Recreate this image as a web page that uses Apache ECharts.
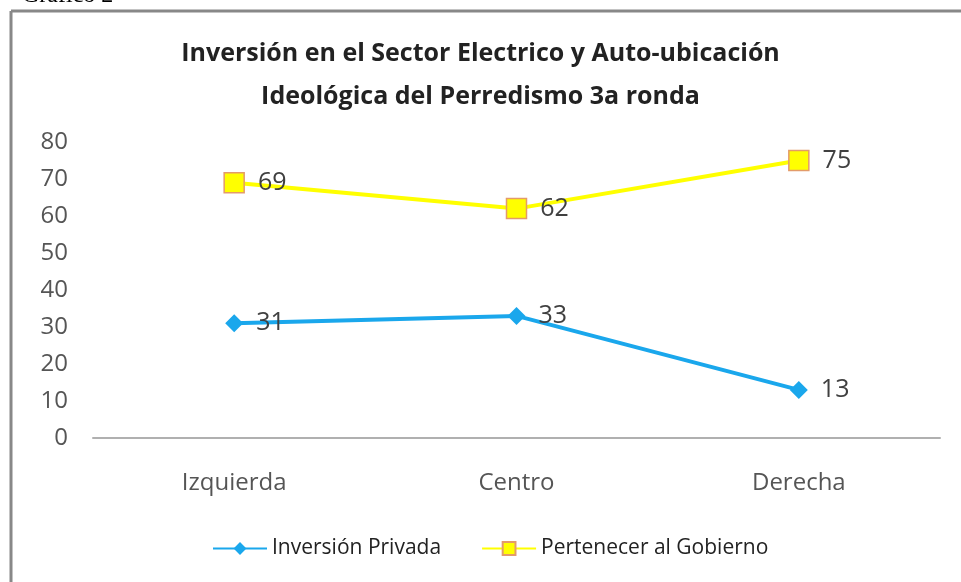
<!DOCTYPE html>
<html>
<head>
<meta charset="utf-8">
<script src="https://cdn.jsdelivr.net/npm/echarts@6/dist/echarts.min.js"></script>
<style>
  html, body { margin: 0; padding: 0; background: #fff; }
  #chart { width: 961px; height: 582px; }
</style>
</head>
<body>
<div id="chart"></div>
<script>
const categories = ['Izquierda', 'Centro', 'Derecha']
const inversionPrivada = [31, 33, 13]
const pertenecerGobierno = [69, 62, 75]
const yTicks = { min: 0, max: 80, interval: 10 }

const chart = echarts.init(document.getElementById('chart'))

const labelStyle = {
  show: true,
  position: 'right',
  distance: 13,
  fontFamily: 'Open Sans',
  fontSize: 25,
  color: '#404040'
}

chart.setOption({
  backgroundColor: '#fff',
  animation: false,
  title: {
    text: 'Inversión en el Sector Electrico y Auto-ubicación\nIdeológica del Perredismo 3a ronda',
    left: 'center',
    top: 27,
    textStyle: {
      fontFamily: 'Open Sans',
      fontWeight: 'bold',
      fontSize: 25,
      lineHeight: 43,
      color: '#222'
    }
  },
  graphic: [
    // trozo del encabezado del documento, cortado arriba
    {
      type: 'text',
      left: 22,
      top: -16,
      style: { text: 'Gráfico 2', fontFamily: 'Liberation Serif', fontSize: 24, fill: '#000' }
    },
    {
      type: 'line',
      shape: { x1: 11, y1: 11, x2: 961, y2: 11 },
      style: { stroke: '#888', lineWidth: 3 }
    },
    {
      type: 'line',
      shape: { x1: 11, y1: 11, x2: 11, y2: 582 },
      style: { stroke: '#888', lineWidth: 3 }
    }
  ],
  grid: {
    left: 93,
    right: 21,
    top: 142,
    bottom: 144
  },
  legend: {
    bottom: 18,
    left: 207,
    itemWidth: 54,
    itemHeight: 16,
    itemGap: 40,
    textStyle: { fontFamily: 'Open Sans', fontSize: 21, color: '#222' },
    data: ['Inversión Privada', 'Pertenecer al Gobierno']
  },
  xAxis: {
    type: 'category',
    data: categories,
    boundaryGap: true,
    axisLine: { lineStyle: { color: '#b0b0b0', width: 2 } },
    axisTick: { show: false },
    axisLabel: { margin: 33, fontFamily: 'Open Sans', fontSize: 24, color: '#555' }
  },
  yAxis: {
    type: 'value',
    min: yTicks.min,
    max: yTicks.max,
    interval: yTicks.interval,
    splitLine: { show: false },
    axisLine: { show: false },
    axisTick: { show: false },
    axisLabel: { margin: 25, fontFamily: 'Open Sans', fontSize: 24, color: '#555' }
  },
  series: [
    {
      name: 'Inversión Privada',
      type: 'line',
      data: inversionPrivada,
      symbol: 'diamond',
      symbolSize: 18,
      itemStyle: { color: '#1aa7ec' },
      lineStyle: { color: '#1aa7ec', width: 4 },
      label: labelStyle
    },
    {
      name: 'Pertenecer al Gobierno',
      type: 'line',
      data: pertenecerGobierno,
      symbol: 'rect',
      symbolSize: 20,
      itemStyle: { color: '#ffff00', borderColor: '#e39b6a', borderWidth: 1.5 },
      lineStyle: { color: '#ffff00', width: 4 },
      label: labelStyle
    }
  ]
})
</script>
</body>
</html>
